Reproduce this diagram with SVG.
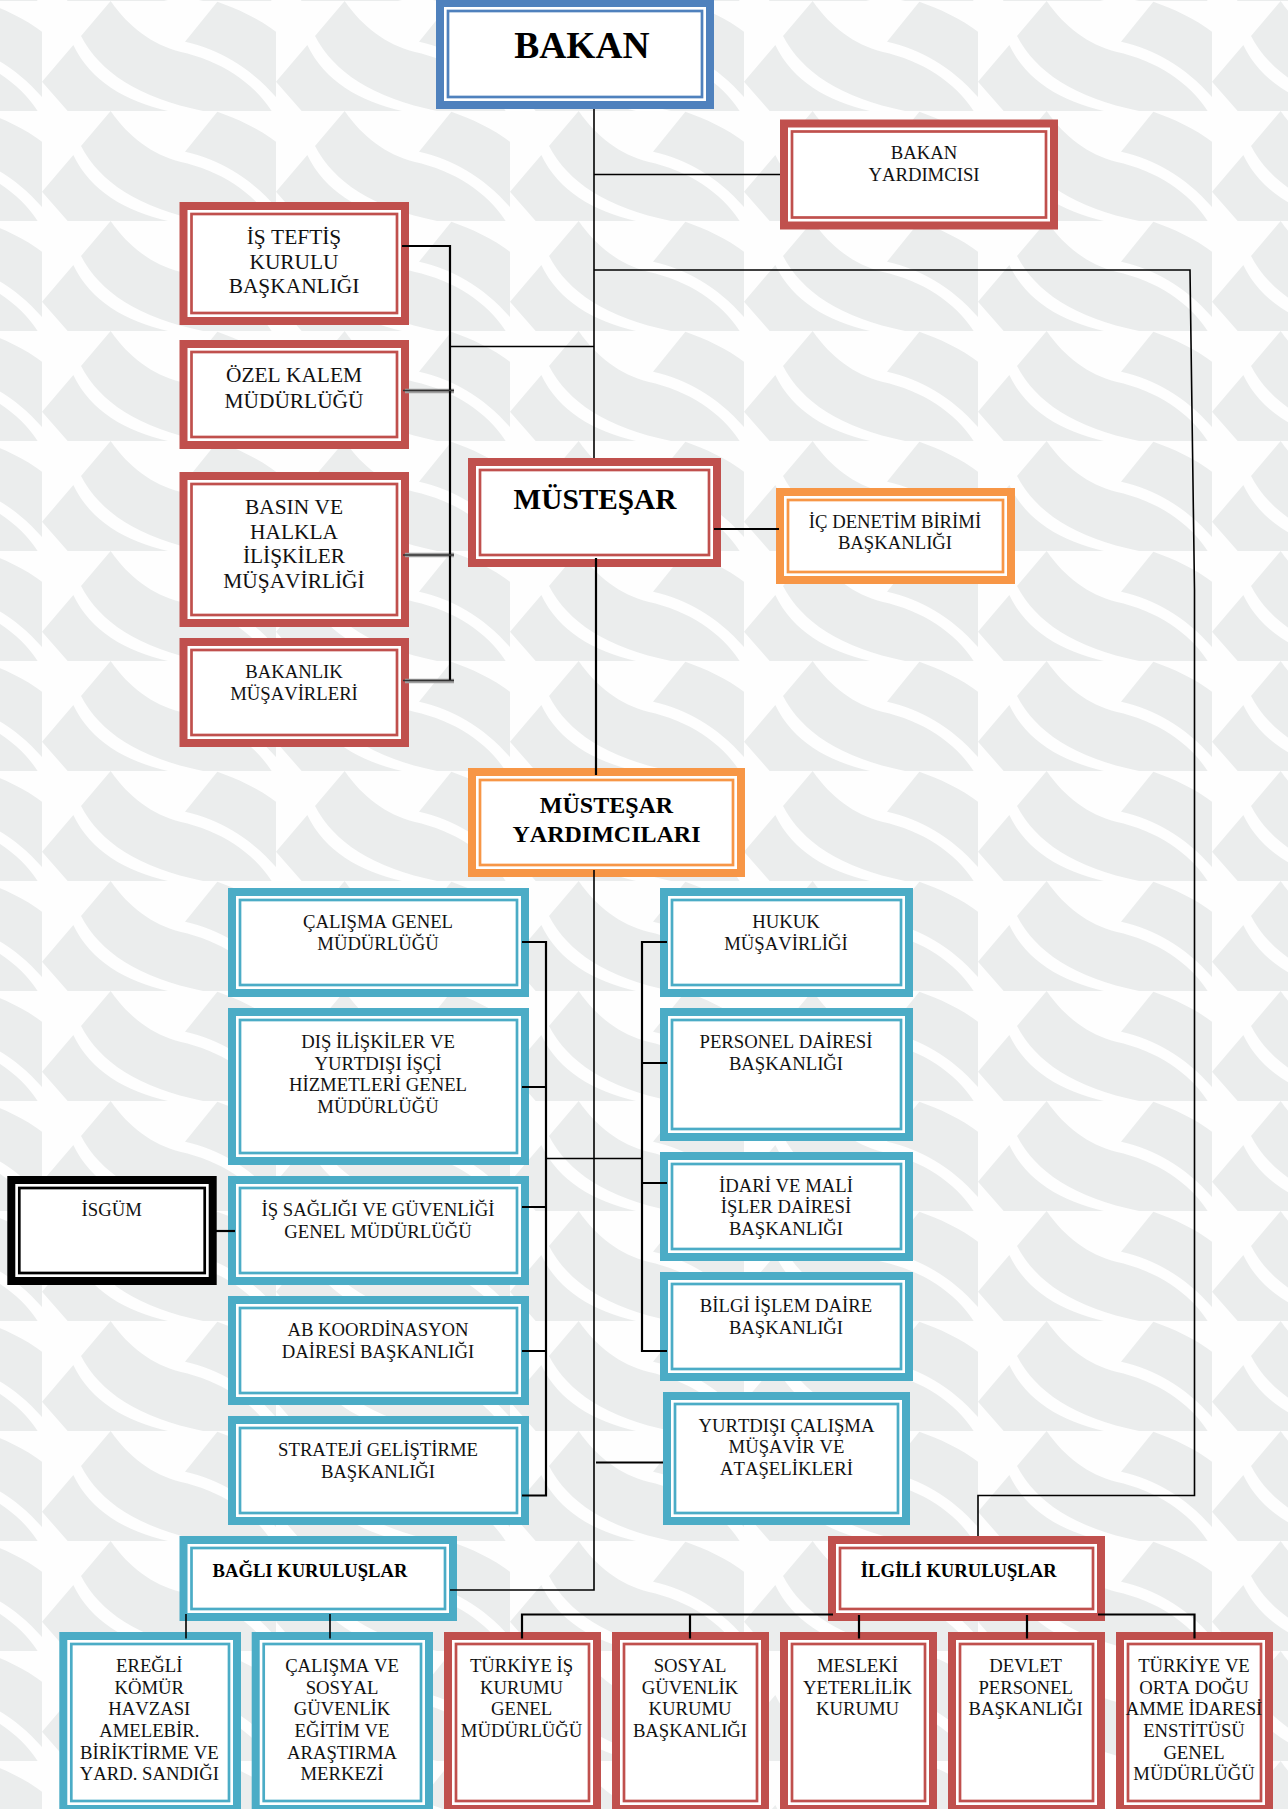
<svg xmlns="http://www.w3.org/2000/svg" width="1288" height="1809" viewBox="0 0 1288 1809">
<defs>
<pattern id="bg" patternUnits="userSpaceOnUse" x="42" y="1" width="234" height="110">
<g transform="scale(0.33333)" fill="#ebeded">
<path d="M206,0 L117,105 C175,215 290,290 483,330 L689,330 C635,245 535,178 414,152 C330,130 262,80 206,0Z"/>
<path d="M94,132 L0,242 L77,330 L378,330 C250,300 145,240 94,132Z"/>
<path d="M526,2 L429,122 C530,145 620,195 702,288 L702,92 C650,52 590,25 526,2Z"/>
</g>
</pattern>
</defs>
<style>
text{font-family:"Liberation Serif","Times New Roman",serif;fill:#111;text-anchor:middle;font-kerning:none}
.s{font-size:18.7px}
.m{font-size:21.4px}
.b{font-weight:bold;fill:#000}
rect{fill:#fff;stroke-miterlimit:10}
.o{stroke-width:8}
.i{stroke-width:2.7}
.red rect{stroke:#c0504d}
.blu rect{stroke:#4bacc6}
.org rect{stroke:#f79646}
.nav rect{stroke:#4f81bd}
.blk rect{stroke:#000}
#connectors path{fill:none;stroke:#000;stroke-width:1.6}
#connectors .w{stroke-width:2.2}
#connectors .h{stroke:#a0a0a0;stroke-width:4.5}
#connectors .g{stroke:#333;stroke-width:1.6}
</style>
<rect width="1288" height="1809" style="fill:#fefefe"/>
<rect width="1288" height="1809" style="fill:url(#bg)"/>
<g id="n-bakan" class="nav"><rect class="o" x="440" y="3" width="270" height="102"/><rect class="i" x="448" y="11" width="254" height="86"/><text class="b" x="582" y="58" font-size="37.5">BAKAN</text></g>
<g id="n-bakan-yardimcisi" class="red"><rect class="o" x="784" y="123.5" width="270" height="102"/><rect class="i" x="792" y="131.5" width="254" height="86"/><text class="s" x="924" y="159">BAKAN</text><text class="s" x="924" y="181">YARDIMCISI</text></g>
<g id="n-teftis" class="red"><rect class="o" x="183.5" y="206" width="221.5" height="115"/><rect class="i" x="191.5" y="214" width="205.5" height="99"/><text class="m" x="294" y="244">İŞ TEFTİŞ</text><text class="m" x="294" y="269">KURULU</text><text class="m" x="294" y="293">BAŞKANLIĞI</text></g>
<g id="n-ozel-kalem" class="red"><rect class="o" x="183.5" y="344" width="221.5" height="101"/><rect class="i" x="191.5" y="352" width="205.5" height="85"/><text class="m" x="294" y="382">ÖZEL KALEM</text><text class="m" x="294" y="407.5">MÜDÜRLÜĞÜ</text></g>
<g id="n-basin" class="red"><rect class="o" x="183.5" y="476" width="221.5" height="147"/><rect class="i" x="191.5" y="484" width="205.5" height="131"/><text class="m" x="294" y="514">BASIN VE</text><text class="m" x="294" y="539">HALKLA</text><text class="m" x="294" y="563">İLİŞKİLER</text><text class="m" x="294" y="588">MÜŞAVİRLİĞİ</text></g>
<g id="n-musavirler" class="red"><rect class="o" x="183.5" y="642" width="221.5" height="101"/><rect class="i" x="191.5" y="650" width="205.5" height="85"/><text class="s" x="294" y="678">BAKANLIK</text><text class="s" x="294" y="700">MÜŞAVİRLERİ</text></g>
<g id="n-mustesar" class="red"><rect class="o" x="472" y="462" width="245" height="101"/><rect class="i" x="480" y="470" width="229" height="85"/><text class="b" x="595" y="509" font-size="29.3">MÜSTEŞAR</text></g>
<g id="n-ic-denetim" class="org"><rect class="o" x="780" y="492" width="231" height="88"/><rect class="i" x="788" y="500" width="215" height="72"/><text class="s" x="895" y="528">İÇ DENETİM BİRİMİ</text><text class="s" x="895" y="549">BAŞKANLIĞI</text></g>
<g id="n-mustesar-yard" class="org"><rect class="o" x="472" y="772" width="269" height="101"/><rect class="i" x="480" y="780" width="253" height="85"/><text class="b" x="606.5" y="813" font-size="24">MÜSTEŞAR</text><text class="b" x="606.5" y="842" font-size="24">YARDIMCILARI</text></g>
<g id="n-calisma" class="blu"><rect class="o" x="232" y="892" width="293" height="101"/><rect class="i" x="240" y="900" width="277" height="85"/><text class="s" x="378" y="928">ÇALIŞMA GENEL</text><text class="s" x="378" y="950">MÜDÜRLÜĞÜ</text></g>
<g id="n-dis" class="blu"><rect class="o" x="232" y="1012" width="293" height="149"/><rect class="i" x="240" y="1020" width="277" height="133"/><text class="s" x="378" y="1048">DIŞ İLİŞKİLER VE</text><text class="s" x="378" y="1069.5">YURTDIŞI İŞÇİ</text><text class="s" x="378" y="1091">HİZMETLERİ GENEL</text><text class="s" x="378" y="1113">MÜDÜRLÜĞÜ</text></g>
<g id="n-saglik" class="blu"><rect class="o" x="232" y="1180" width="293" height="101"/><rect class="i" x="240" y="1188" width="277" height="85"/><text class="s" x="378" y="1216">İŞ SAĞLIĞI VE GÜVENLİĞİ</text><text class="s" x="378" y="1238">GENEL MÜDÜRLÜĞÜ</text></g>
<g id="n-ab" class="blu"><rect class="o" x="232" y="1300" width="293" height="101"/><rect class="i" x="240" y="1308" width="277" height="85"/><text class="s" x="378" y="1336">AB KOORDİNASYON</text><text class="s" x="378" y="1358">DAİRESİ BAŞKANLIĞI</text></g>
<g id="n-strateji" class="blu"><rect class="o" x="232" y="1420" width="293" height="101"/><rect class="i" x="240" y="1428" width="277" height="85"/><text class="s" x="378" y="1456">STRATEJİ GELİŞTİRME</text><text class="s" x="378" y="1478">BAŞKANLIĞI</text></g>
<g id="n-hukuk" class="blu"><rect class="o" x="664" y="892" width="245" height="101"/><rect class="i" x="672" y="900" width="229" height="85"/><text class="s" x="786" y="928">HUKUK</text><text class="s" x="786" y="950">MÜŞAVİRLİĞİ</text></g>
<g id="n-personel" class="blu"><rect class="o" x="664" y="1012" width="245" height="125"/><rect class="i" x="672" y="1020" width="229" height="109"/><text class="s" x="786" y="1048">PERSONEL DAİRESİ</text><text class="s" x="786" y="1070">BAŞKANLIĞI</text></g>
<g id="n-idari" class="blu"><rect class="o" x="664" y="1156" width="245" height="101"/><rect class="i" x="672" y="1164" width="229" height="85"/><text class="s" x="786" y="1192">İDARİ VE MALİ</text><text class="s" x="786" y="1213">İŞLER DAİRESİ</text><text class="s" x="786" y="1235">BAŞKANLIĞI</text></g>
<g id="n-bilgi" class="blu"><rect class="o" x="664" y="1276" width="245" height="101"/><rect class="i" x="672" y="1284" width="229" height="85"/><text class="s" x="786" y="1312">BİLGİ İŞLEM DAİRE</text><text class="s" x="786" y="1334">BAŞKANLIĞI</text></g>
<g id="n-yurtdisi" class="blu"><rect class="o" x="667" y="1396" width="239" height="125"/><rect class="i" x="675" y="1404" width="223" height="109"/><text class="s" x="786.5" y="1432">YURTDIŞI ÇALIŞMA</text><text class="s" x="786.5" y="1453">MÜŞAVİR VE</text><text class="s" x="786.5" y="1475">ATAŞELİKLERİ</text></g>
<g id="n-isgum" class="blk"><rect class="o" x="11.3" y="1180" width="201.4" height="101"/><rect class="i" x="19.3" y="1188" width="185.4" height="85"/><text class="s" x="111.7" y="1216">İSGÜM</text></g>
<g id="n-bagli" class="blu"><rect class="o" x="183.5" y="1540" width="269.5" height="77"/><rect class="i" x="191.5" y="1548" width="253.5" height="61"/><text class="b" x="310" y="1577" font-size="18.6">BAĞLI KURULUŞLAR</text></g>
<g id="n-ilgili" class="red"><rect class="o" x="832" y="1540" width="269" height="77"/><rect class="i" x="840" y="1548" width="253" height="61"/><text class="b" x="958.7" y="1577" font-size="18.6">İLGİLİ KURULUŞLAR</text></g>
<g id="n-eregli" class="blu"><rect class="o" x="63.3" y="1636" width="173.7" height="173"/><rect class="i" x="71.3" y="1644" width="157.7" height="157"/><text class="s" x="149.3" y="1672">EREĞLİ</text><text class="s" x="149.3" y="1694">KÖMÜR</text><text class="s" x="149.3" y="1715">HAVZASI</text><text class="s" x="149.3" y="1737">AMELEBİR.</text><text class="s" x="149.3" y="1758.5">BİRİKTİRME VE</text><text class="s" x="149.3" y="1780">YARD. SANDIĞI</text></g>
<g id="n-csgem" class="blu"><rect class="o" x="255.7" y="1636" width="173.3" height="173"/><rect class="i" x="263.7" y="1644" width="157.3" height="157"/><text class="s" x="342" y="1672">ÇALIŞMA VE</text><text class="s" x="342" y="1694">SOSYAL</text><text class="s" x="342" y="1715">GÜVENLİK</text><text class="s" x="342" y="1737">EĞİTİM VE</text><text class="s" x="342" y="1758.5">ARAŞTIRMA</text><text class="s" x="342" y="1780">MERKEZİ</text></g>
<g id="n-iskur" class="red"><rect class="o" x="448" y="1636" width="149" height="173"/><rect class="i" x="456" y="1644" width="133" height="157"/><text class="s" x="521.6" y="1672">TÜRKİYE İŞ</text><text class="s" x="521.6" y="1694">KURUMU</text><text class="s" x="521.6" y="1715">GENEL</text><text class="s" x="521.6" y="1737">MÜDÜRLÜĞÜ</text></g>
<g id="n-sgk" class="red"><rect class="o" x="616" y="1636" width="149" height="173"/><rect class="i" x="624" y="1644" width="133" height="157"/><text class="s" x="690" y="1672">SOSYAL</text><text class="s" x="690" y="1694">GÜVENLİK</text><text class="s" x="690" y="1715">KURUMU</text><text class="s" x="690" y="1737">BAŞKANLIĞI</text></g>
<g id="n-myk" class="red"><rect class="o" x="784" y="1636" width="149" height="173"/><rect class="i" x="792" y="1644" width="133" height="157"/><text class="s" x="857.5" y="1672">MESLEKİ</text><text class="s" x="857.5" y="1694">YETERLİLİK</text><text class="s" x="857.5" y="1715">KURUMU</text></g>
<g id="n-dpb" class="red"><rect class="o" x="952" y="1636" width="149" height="173"/><rect class="i" x="960" y="1644" width="133" height="157"/><text class="s" x="1025.7" y="1672">DEVLET</text><text class="s" x="1025.7" y="1694">PERSONEL</text><text class="s" x="1025.7" y="1715">BAŞKANLIĞI</text></g>
<g id="n-todaie" class="red"><rect class="o" x="1120" y="1636" width="149" height="173"/><rect class="i" x="1128" y="1644" width="133" height="157"/><text class="s" x="1194" y="1672">TÜRKİYE VE</text><text class="s" x="1194" y="1694">ORTA DOĞU</text><text class="s" x="1194" y="1715">AMME İDARESİ</text><text class="s" x="1194" y="1737">ENSTİTÜSÜ</text><text class="s" x="1194" y="1758.5">GENEL</text><text class="s" x="1194" y="1780">MÜDÜRLÜĞÜ</text></g>
<g id="connectors">
<path d="M594,109V458"/>
<path d="M594,174.5H780"/>
<path d="M594,270H1190L1194.5,590V1495.5H978V1536"/>
<path class="h" d="M405,391H454M405,555H454M405,681H454"/>
<path class="w" d="M402,246H450V681"/>
<path d="M450,346.5H594"/>
<path class="g" d="M403,390.5H454M403,555H454M403,680.5H454"/>
<path class="w" d="M596,558V775"/>
<path class="w" d="M714,529H779"/>
<path d="M594,870V1590H450"/>
<path class="w" d="M522,942H546V1495.5H522M522,1087H546M522,1207H546M522,1351H546"/>
<path class="w" d="M667,942H642V1351H667M642,1063H667M642,1183H667"/>
<path d="M546,1158.5H642"/>
<path class="w" d="M596,1462.5H663"/>
<path class="w" d="M216,1231H235"/>
<path d="M186,1614V1638.5M330,1614V1638.5"/>
<path class="w" d="M522,1638.5V1614.5H833M690,1614.5V1638.5M859,1615V1638.5M1027,1615V1638.5M1098,1614.5H1194.5V1638.5"/>
</g>
</svg>
